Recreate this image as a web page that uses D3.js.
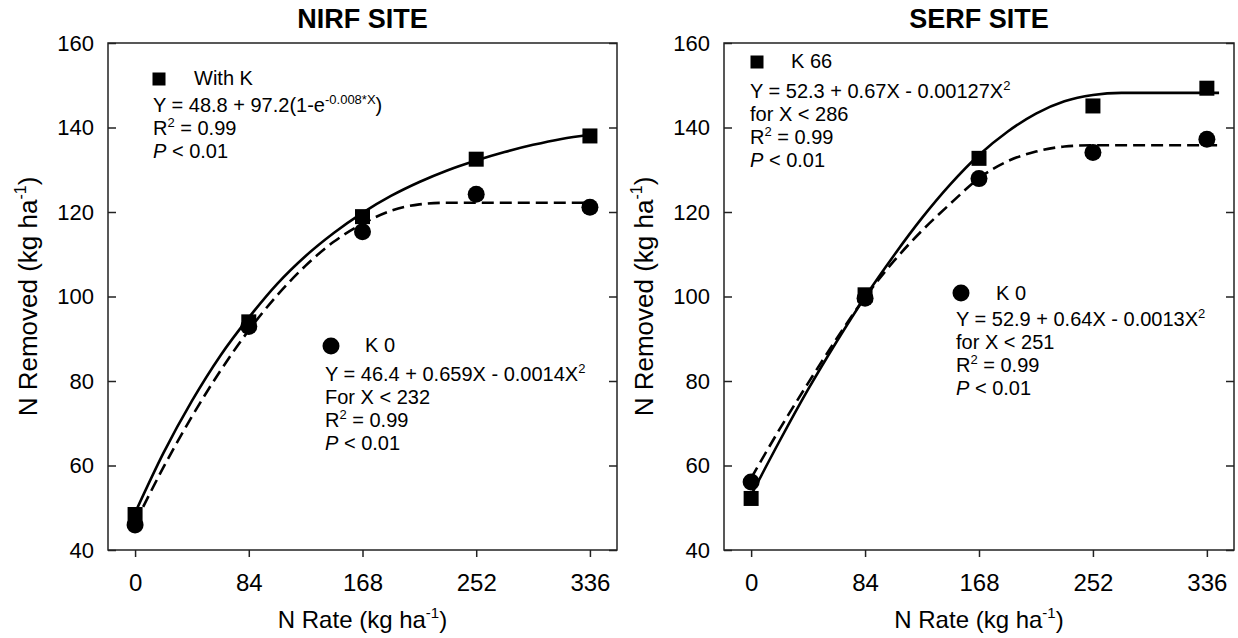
<!DOCTYPE html>
<html lang="en">
<head>
<meta charset="utf-8">
<title>N Removed vs N Rate</title>
<script src="https://d3js.org/d3.v7.min.js"></script>
<style>
body { margin: 0; background: #fff; }
svg text { font-family: "Liberation Sans", Arial, sans-serif; fill: #000; white-space: pre; }
.axis path { display: none; }
.axis line { stroke: #222; stroke-width: 1.5; }
.axis.y text { font-size: 22px; }
.axis.x text { font-size: 24px; }
</style>
</head>
<body>
<svg width="1238" height="638"></svg>
<script>
// N rates and axis ticks
var nRates = [0, 84, 168, 252, 336];
var yTicks = [40, 60, 80, 100, 120, 140, 160];

// measured N removed (kg/ha)
var nirfWithK = [48.4, 94.0, 118.9, 132.5, 138.0];
var nirfK0    = [45.9, 92.9, 115.3, 124.2, 121.1];
var serfK66   = [52.2, 100.4, 132.7, 145.1, 149.3];
var serfK0    = [56.1, 99.6, 127.9, 134.1, 137.2];

// fitted curves
var nirfWithKFitX = [0, 21, 42, 63, 84, 105, 126, 147, 168, 189, 210, 231, 252, 273, 294, 315, 336];
var nirfWithKFitY = [48.8, 63.0, 75.3, 86.0, 95.0, 103.0, 109.6, 115.1, 119.8, 123.8, 127.1, 129.9, 132.2, 134.2, 135.9, 137.3, 138.3];
var nirfK0FitX = [0, 21, 42, 63, 84, 105, 126, 147, 168, 189, 210, 231, 252, 273, 294, 315, 340];
var nirfK0FitY = [46.4, 59.6, 71.6, 82.4, 92.0, 100.3, 107.3, 113.0, 117.2, 120.3, 121.8, 122.2, 122.2, 122.2, 122.2, 122.2, 122.2];
var serfFitX = [0, 21, 42, 63, 84, 105, 126, 147, 168, 189, 210, 231, 252, 273, 294, 315, 345];
var serfK66FitY = [53.0, 65.8, 78.0, 89.3, 99.9, 109.6, 118.6, 126.6, 133.5, 139.0, 143.3, 146.2, 147.7, 148.2, 148.2, 148.2, 148.2];
var serfK0FitY  = [57.0, 68.6, 79.5, 90.0, 99.8, 108.3, 115.6, 122.0, 128.0, 132.0, 134.3, 135.5, 135.8, 135.8, 135.8, 135.8, 135.8];

// annotation text
var nirfWithKNote = [
  [["Y = 48.8 + 97.2(1-e"], ["-0.008*X", "sup"], [")"]],
  [["R"], ["2", "sup"], [" = 0.99"]],
  [["P", "it"], [" < 0.01"]]
];
var nirfK0Note = [
  [["Y = 46.4 + 0.659X - 0.0014X"], ["2", "sup"]],
  [["For X < 232"]],
  [["R"], ["2", "sup"], [" = 0.99"]],
  [["P", "it"], [" < 0.01"]]
];
var serfK66Note = [
  [["Y = 52.3 + 0.67X - 0.00127X"], ["2", "sup"]],
  [["for X < 286"]],
  [["R"], ["2", "sup"], [" = 0.99"]],
  [["P", "it"], [" < 0.01"]]
];
var serfK0Note = [
  [["Y = 52.9 + 0.64X - 0.0013X"], ["2", "sup"]],
  [["for X < 251"]],
  [["R"], ["2", "sup"], [" = 0.99"]],
  [["P", "it"], [" < 0.01"]]
];

var svg = d3.select("svg"),
    plotTop = 43,
    h = 507;

function pairs(xs, ys) {
  return xs.map(function(v, i) { return [v, ys[i]]; });
}

// write text made of plain / superscript / italic pieces
function richText(sel, parts, supSize, supShift) {
  var up = false;
  parts.forEach(function(p) {
    var t = sel.append("tspan").text(p[0]);
    if (p[1] === "sup") {
      t.attr("font-size", supSize).attr("dy", -supShift);
      up = true;
    } else {
      if (p[1] === "it") t.attr("font-style", "italic");
      if (up) t.attr("dy", supShift);
      up = false;
    }
  });
}

function note(g, x0, baselines, lines) {
  lines.forEach(function(parts, i) {
    var t = g.append("text")
      .attr("x", x0)
      .attr("y", baselines[i])
      .attr("font-size", "20px");
    richText(t, parts, "13px", 8);
  });
}

function drawPanel(p) {
  var g = svg.append("g")
    .attr("transform", "translate(" + p.left + "," + plotTop + ")");

  var x = d3.scaleLinear().domain([-20, 356]).range([0, p.width]),
      y = d3.scaleLinear().domain([40, 160]).range([h, 0]);

  var line = d3.line()
    .x(function(d) { return x(d[0]); })
    .y(function(d) { return y(d[1]); })
    .curve(d3.curveMonotoneX);

  g.append("path")
    .datum(pairs(p.fitX2, p.fit2))
    .attr("d", line)
    .attr("fill", "none")
    .attr("stroke", "#000")
    .attr("stroke-width", 2.6)
    .attr("stroke-dasharray", "12,6");

  g.append("path")
    .datum(pairs(p.fitX1, p.fit1))
    .attr("d", line)
    .attr("fill", "none")
    .attr("stroke", "#000")
    .attr("stroke-width", 2.6);

  g.selectAll(".sq")
    .data(pairs(nRates, p.obs1))
    .enter().append("rect")
    .attr("x", function(d) { return x(d[0]) - 7.5; })
    .attr("y", function(d) { return y(d[1]) - 7.5; })
    .attr("width", 15)
    .attr("height", 15)
    .attr("fill", "#000");

  g.selectAll(".dot")
    .data(pairs(nRates, p.obs2))
    .enter().append("circle")
    .attr("cx", function(d) { return x(d[0]); })
    .attr("cy", function(d) { return y(d[1]); })
    .attr("r", 8.5)
    .attr("fill", "#000");

  // axes
  g.append("g").attr("class", "axis y")
    .call(d3.axisLeft(y).tickValues(yTicks).tickSizeInner(-8).tickSizeOuter(0).tickPadding(14));

  g.append("g").attr("class", "axis y")
    .attr("transform", "translate(" + p.width + ",0)")
    .call(d3.axisRight(y).tickValues(yTicks).tickSizeInner(-8).tickSizeOuter(0).tickFormat(""));

  g.append("g").attr("class", "axis x")
    .attr("transform", "translate(0," + h + ")")
    .call(d3.axisBottom(x).tickValues(nRates).tickSizeInner(7).tickSizeOuter(0).tickPadding(17));

  g.append("rect")
    .attr("width", p.width)
    .attr("height", h)
    .attr("fill", "none")
    .attr("stroke", "#222")
    .attr("stroke-width", 1.5);

  // titles
  g.append("text")
    .attr("x", p.width / 2)
    .attr("y", -15)
    .attr("text-anchor", "middle")
    .attr("font-size", "27px")
    .attr("font-weight", "bold")
    .text(p.title);

  var xt = g.append("text")
    .attr("x", p.width / 2)
    .attr("y", h + 78)
    .attr("text-anchor", "middle")
    .attr("font-size", "24px");
  richText(xt, [["N Rate (kg ha"], ["-1", "sup"], [")"]], "15px", 10);

  var yt = g.append("text")
    .attr("transform", "rotate(-90)")
    .attr("x", -h / 2)
    .attr("y", -71)
    .attr("text-anchor", "middle")
    .attr("font-size", "26px");
  richText(yt, [["N Removed (kg ha"], ["-1", "sup"], [")"]], "16px", 11);

  // legend markers and equations
  var a = p.notes;
  g.append("rect")
    .attr("x", a.sq[0] - 6.5).attr("y", a.sq[1] - 6.5)
    .attr("width", 13).attr("height", 13)
    .attr("fill", "#000");
  g.append("text").attr("x", a.lab1[0]).attr("y", a.lab1[1])
    .attr("font-size", "20px").text(p.name1);
  note(g, a.eq1[0], a.eq1[1], p.note1);

  g.append("circle")
    .attr("cx", a.dot[0]).attr("cy", a.dot[1]).attr("r", 8.5)
    .attr("fill", "#000");
  g.append("text").attr("x", a.lab2[0]).attr("y", a.lab2[1])
    .attr("font-size", "20px").text(p.name2);
  note(g, a.eq2[0], a.eq2[1], p.note2);
}

drawPanel({
  left: 108, width: 509, title: "NIRF SITE",
  obs1: nirfWithK, obs2: nirfK0,
  fitX1: nirfWithKFitX, fit1: nirfWithKFitY,
  fitX2: nirfK0FitX, fit2: nirfK0FitY,
  name1: "With K", name2: "K 0",
  note1: nirfWithKNote, note2: nirfK0Note,
  notes: {
    sq: [51, 36], lab1: [86, 42], eq1: [45, [69, 92, 115]],
    dot: [223, 303], lab2: [257, 309], eq2: [217, [338, 361, 384, 407]]
  }
});

drawPanel({
  left: 724, width: 510, title: "SERF SITE",
  obs1: serfK66, obs2: serfK0,
  fitX1: serfFitX, fit1: serfK66FitY,
  fitX2: serfFitX, fit2: serfK0FitY,
  name1: "K 66", name2: "K 0",
  note1: serfK66Note, note2: serfK0Note,
  notes: {
    sq: [33, 19], lab1: [67, 25], eq1: [26, [55, 78, 101, 124]],
    dot: [237, 250], lab2: [272, 257], eq2: [232, [283, 306, 329, 352]]
  }
});
</script>
</body>
</html>
